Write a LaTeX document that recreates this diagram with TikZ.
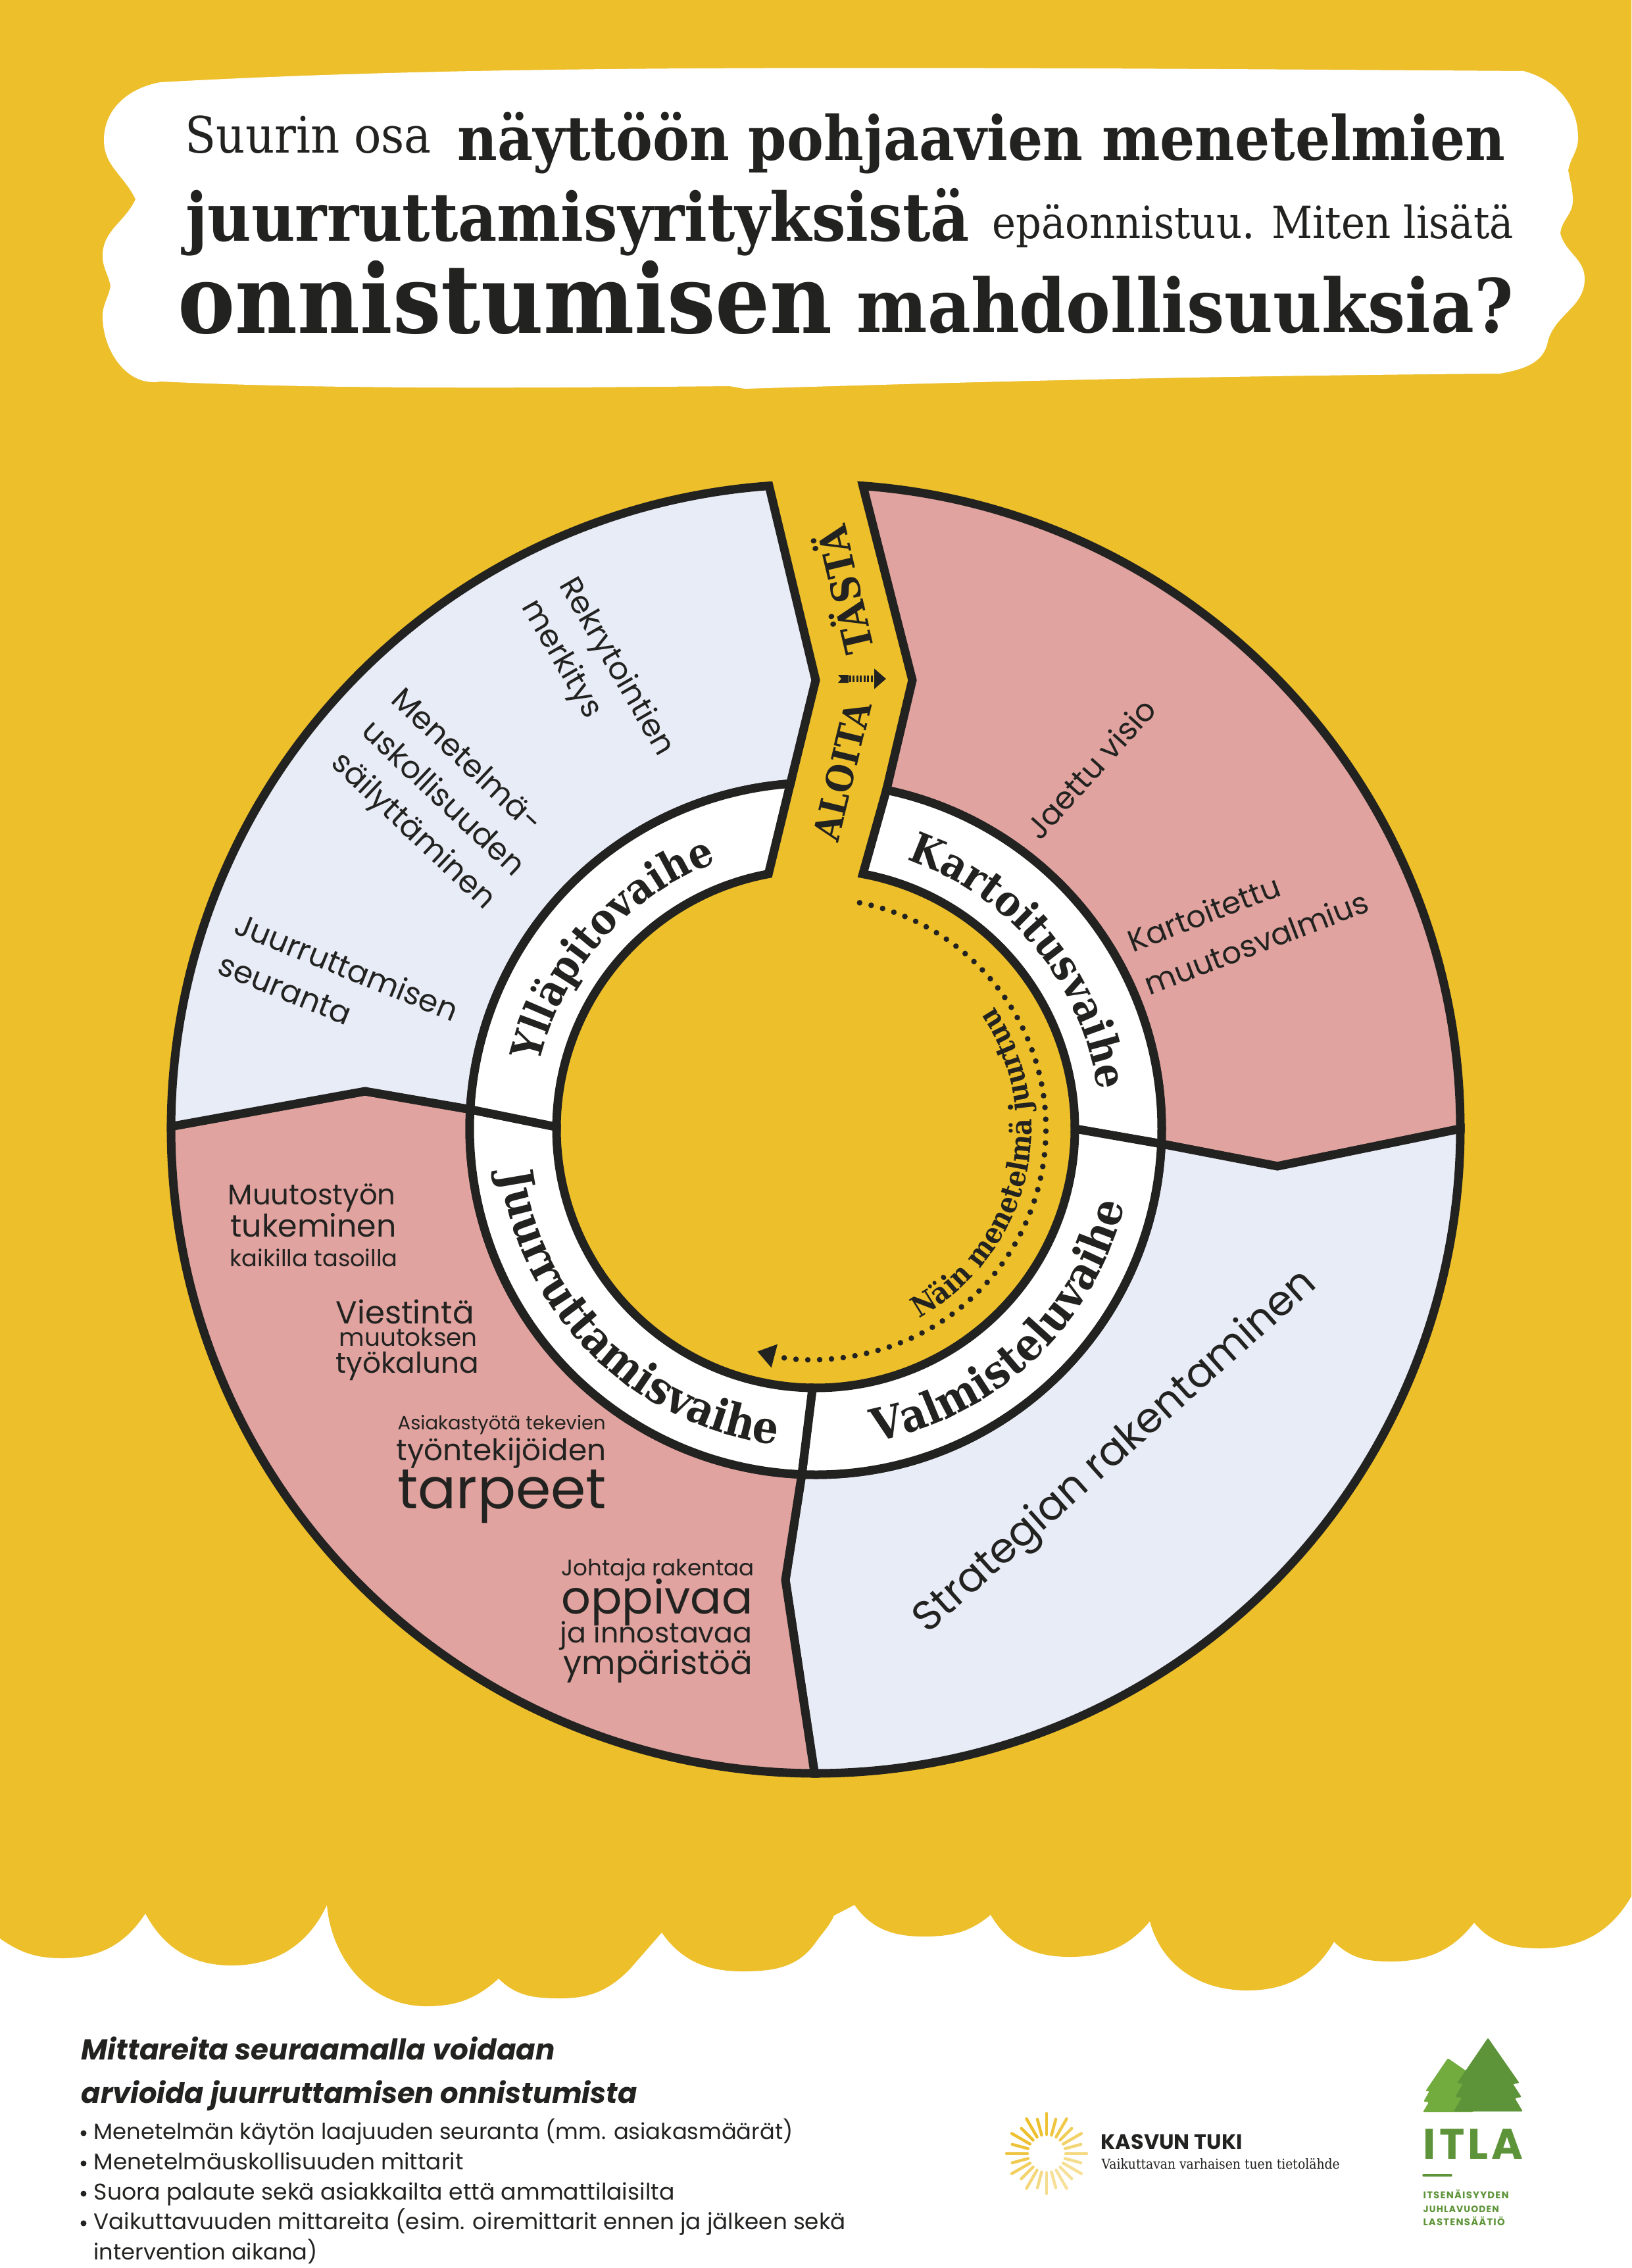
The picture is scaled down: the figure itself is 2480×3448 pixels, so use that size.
\documentclass[tikz,border=0pt]{standalone}
\usepackage{graphicx}
\usepackage{fontspec}
\usetikzlibrary{decorations.text,arrows.meta}
\newfontfamily\serifb{DejaVu Serif Condensed}
\newfontfamily\geosans{Poppins}
\newfontfamily\itlafont{Poppins}[LetterSpace=8]
\definecolor{sunny}{HTML}{EDBF2B}
\definecolor{rose}{HTML}{E0A39F}
\definecolor{mist}{HTML}{E8ECF7}
\definecolor{ink}{HTML}{222220}
\definecolor{pine}{HTML}{5E9439}
\definecolor{leaf}{HTML}{72AC3F}
\definecolor{pale}{HTML}{F7E4A6}
\newlength\pixel
\setlength\pixel{0.01cm}
\newcommand{\fitw}[2]{\resizebox{#1\pixel}{!}{#2}}
\newcommand{\ringfont}{\serifb\bfseries\fontsize{18.3}{19}\selectfont}
\newcommand{\ringfontb}{\serifb\bfseries\fontsize{19.5}{19}\selectfont}
\newcommand{\pathfont}{\serifb\bfseries\fontsize{12.5}{12.5}\selectfont}
\tikzset{
  lbl/.style={inner sep=0pt,anchor=base west,text=ink},
  wheeltxt/.style={inner sep=0pt,text=ink,align=left,font=\geosans\fontsize{13.4}{18.8}\selectfont},
  seg/.style={draw=ink,line width=0.13cm,line join=miter},
  ringtext/.style={decorate,decoration={text along path,text={|\ringfont\color{ink}|#1},text align=center}},
  ringtextb/.style={decorate,decoration={text along path,text={|\ringfontb\color{ink}|#1},text align=center}},
  pathtext/.style={decorate,decoration={text along path,text={|\pathfont\color{ink}|#1},text align=center}},
}
\begin{document}
\begin{tikzpicture}[x=0.01cm,y=-0.01cm]
\useasboundingbox (0,0) rectangle (2480,3448);
\fill[white] (0,0) rectangle (2480,3448);
% yellow page with the scalloped lower edge
\fill[sunny] (0,0) -- (0,2947) to[out=-35,in=180] (95,2977) to[out=0,in=-123] (221,2909)
  to[out=-62,in=180] (352,2988) to[out=0,in=-115] (497,2896) to[out=-85,in=180] (648,3050)
  to[out=0,in=-138] (758,3008) to[out=-45,in=180] (853,3038) to[out=0,in=-134] (958,2993)
  -- (1006,2938) to[out=-55,in=180] (1129,2997) to[out=0,in=-125] (1240,2953)
  to[out=55,in=-115] (1268,2912) -- (1299,2896) to[out=-55,in=180] (1404,2944)
  to[out=0,in=-140] (1506,2911) to[out=-60,in=180] (1626,2975) to[out=0,in=-130] (1748,2921)
  to[out=-75,in=180] (1896,3026) to[out=0,in=-120] (2028,2952) to[out=-45,in=180] (2114,2982)
  to[out=0,in=-128] (2241,2923) to[out=-50,in=180] (2341,2962) to[out=0,in=-120] (2480,2883)
  -- (2480,0) -- cycle;
% cloud behind the title
\fill[white] (244,125) .. controls (700,100) and (1200,100) .. (2316,108)
  to[out=-15,in=90] (2399,210) to[out=-90,in=80] (2384,259)
  to[out=-80,in=90] (2391,305) to[out=-90,in=85] (2372,355)
  to[out=-75,in=90] (2409,424) to[out=-90,in=75] (2353,519)
  to[out=-100,in=10] (2280,568) .. controls (1800,572) and (1500,580) .. (1132,591)
  -- (1109,587) .. controls (800,590) and (500,592) .. (244,580)
  to[out=190,in=-90] (156,481) to[out=90,in=-100] (168,435)
  to[out=100,in=-90] (156,389) to[out=90,in=-115] (206,303)
  to[out=115,in=-90] (158,213) to[out=90,in=190] (244,125) -- cycle;
% title
\node[lbl] (t1) at (281,232) {\fitw{374}{\serifb Suurin osa}};
\node[lbl] (t2) at (695,243) {\fitw{1593}{\serifb\bfseries näyttöön pohjaavien menetelmien}};
\node[lbl] (t3) at (282,366) {\fitw{1191}{\serifb\bfseries juurruttamisyrityksistä}};
\node[lbl] (t4) at (1508,362) {\fitw{792}{\serifb epäonnistuu. Miten lisätä}};
\node[lbl] (t5) at (270,506) {\fitw{995}{\serifb\bfseries onnistumisen}};
\node[lbl] (t6) at (1302,505) {\fitw{998}{\serifb\bfseries mahdollisuuksia?}};
% the wheel, centred, angles as usual
\begin{scope}[shift={(1240,1716)},y=0.01cm]
\draw[seg,fill=rose] (85.8:980) -- (147,682) -- (78.2:526) arc[start angle=78.2,end angle=-2.5,radius=526]
  -- (702,-57) -- (0:980) arc[start angle=0,end angle=85.8,radius=980] -- cycle;
\draw[seg,fill=mist] (0:980) -- (702,-57) -- (-2.5:526) arc[start angle=-2.5,end angle=-92.3,radius=526]
  -- (-46,-686) -- (-90.1:980) arc[start angle=-90.1,end angle=0,radius=980] -- cycle;
\draw[seg,fill=rose] (-90.1:980) -- (-46,-686) -- (-92.3:526) arc[start angle=-92.3,end angle=-183.2,radius=526]
  -- (-685,57) -- (-180.2:980) arc[start angle=-180.2,end angle=-90.1,radius=980] -- cycle;
\draw[seg,fill=mist] (179.8:980) -- (-685,57) -- (176.8:526) arc[start angle=176.8,end angle=94.2,radius=526]
  -- (0,682) -- (94.15:980) arc[start angle=94.15,end angle=179.8,radius=980] -- cycle;
% white ring
\foreach \a/\b/\c/\d in {78.2/-2.5/0/79.5,-2.5/-92.3/-90.7/0,-92.3/-183.2/-180.4/-90.7,176.8/94.2/100.5/179.6}
  \draw[seg,fill=white] (\a:526) arc[start angle=\a,end angle=\b,radius=526]
    -- (\c:394) arc[start angle=\c,end angle=\d,radius=394] -- cycle;
\path[ringtext=Kartoitusvaihe] (79.5:432) arc[start angle=79.5,end angle=-0.5,radius=432];
\path[ringtext=Ylläpitovaihe] (178.5:432) arc[start angle=178.5,end angle=98.5,radius=432];
\path[ringtextb=Valmisteluvaihe] (-90:484) arc[start angle=-90,end angle=-3,radius=484];
\path[ringtextb=Juurruttamisvaihe] (-179:484) arc[start angle=-179,end angle=-90,radius=484];
\path[pathtext=Näin menetelmä juurtuu] (-75:328) arc[start angle=-75,end angle=48,radius=328];
\draw[ink,line width=0.085cm,line cap=round,dash pattern=on 0pt off 0.18cm,
  -{Triangle[length=0.27cm,width=0.35cm]}] (79:350) arc[start angle=79,end angle=-104.7,radius=350];
\end{scope}
% start arrow in the gap
\node[inner sep=0pt,text=ink,rotate=76.3] (aloita) at (1280,1172) {\fitw{215}{\serifb\bfseries ALOITA}};
\node[inner sep=0pt,text=ink,rotate=103.3] (tasta) at (1280,898) {\fitw{198}{\serifb\bfseries TÄSTÄ}};
\coordinate (a0) at (1285,1032);
\coordinate (a1) at (1347,1032);
\fill[ink] (1274,1026) -- (1290,1026) -- (1290,1038) -- (1274,1038) -- (1279,1032) -- cycle;
\draw[ink,line width=0.1cm,dash pattern=on 0.03cm off 0.025cm,-{Triangle[length=0.18cm,width=0.3cm]}] (a0) -- (a1);
% texts of the four sectors
\node[wheeltxt,rotate=-60] (s1) at (907,1031) {Rekrytointien\\merkitys};
\node[wheeltxt,rotate=-43.3] (s2) at (672,1217) {Menetelmä-\\uskollisuuden\\säilyttäminen};
\node[wheeltxt,rotate=-22] (s3) at (515,1500) {Juurruttamisen\\seuranta};
\node[wheeltxt,rotate=48] (s4) at (1658,1168) {\fitw{267}{Jaettu visio}};
\node[wheeltxt,rotate=21,font=\geosans\fontsize{13.2}{20}\selectfont] (s5) at (1897,1400) {Kartoitettu\\muutosvalmius};
\node[wheeltxt,rotate=41.7] (s6) at (1697,2208) {\fitw{795}{Strategian rakentaminen}};
\foreach \n/\x/\y/\w/\txt in {1/346/1831/255/Muutostyön,2/350/1880/252/tukeminen,3/349/1925/255/kaikilla tasoilla,
  4/510/2012/210/Viestintä,5/515/2046/210/muutoksen,6/510/2087/217/työkaluna,
  7/604/2173/316/Asiakastyötä tekevien,8/602/2220/319/työntekijöiden,9/604/2293/317/tarpeet,
  10/853/2395/293/Johtaja rakentaa,11/853/2453/291/oppivaa,12/851/2497/292/ja innostavaa,13/856/2545/287/ympäristöä}
  \node[lbl] (r\n) at (\x,\y) {\fitw{\w}{\geosans\txt}};
% measures
\node[lbl] (h1) at (123,3131) {\fitw{720}{\geosans\bfseries\itshape Mittareita seuraamalla voidaan}};
\node[lbl] (h2) at (123,3197) {\fitw{845}{\geosans\bfseries\itshape arvioida juurruttamisen onnistumista}};
\foreach \n/\y/\w/\txt in {1/3252/1063/Menetelmän käytön laajuuden seuranta (mm. asiakasmäärät),2/3298/562/Menetelmäuskollisuuden mittarit,
  3/3344/883/Suora palaute sekä asiakkailta että ammattilaisilta,4/3389/1143/Vaikuttavuuden mittareita (esim. oiremittarit ennen ja jälkeen sekä} {
  \node[lbl] (b\n) at (142,\y) {\fitw{\w}{\geosans\txt}};
  \fill[ink] (127,\y-9) circle (4.5);
}
\node[lbl] (b5) at (142,3435) {\fitw{340}{\geosans intervention aikana)}};
% logos
\begin{scope}[shift={(1591,3274)},y=0.01cm]
\foreach \a [count=\n] in {0,15,...,345} {
  \pgfmathsetmacro\ro{mod(\n,2)==1 ? 61 : 54}
  \pgfmathsetmacro\mx{int(55+45*cos(\a-125))}
  \draw[sunny!\mx!pale,line width=0.045cm,line cap=round] (\a:29) -- (\a:\ro);
}
\end{scope}
\node[lbl] (k1) at (1673,3267) {\fitw{215}{\geosans\bfseries KASVUN TUKI}};
\node[lbl] (k2) at (1674,3297) {\fitw{362}{\serifb Vaikuttavan varhaisen tuen tietolähde}};
\fill[leaf,rounded corners=0.02cm] (2201,3129) -- (2167,3179) -- (2173,3179) -- (2164,3195) -- (2172,3196) -- (2163,3211)
  -- (2240,3211) -- (2240,3156) -- cycle;
\fill[pine,rounded corners=0.02cm] (2262,3098) -- (2215,3167) -- (2224,3168) -- (2212,3188) -- (2222,3189) -- (2210,3210)
  -- (2315,3210) -- (2303,3190) -- (2313,3188) -- (2300,3168) -- (2310,3167) -- cycle;
\node[lbl,text=pine] (i1) at (2163,3282) {\fitw{152}{\itlafont\bfseries ITLA}};
\draw[pine,line width=0.035cm,line cap=round] (2164,3307) -- (2206,3307);
\foreach \n/\y/\w/\txt in {2/3342/130/ITSENÄISYYDEN,3/3363/115/JUHLAVUODEN,4/3383/124/LASTENSÄÄTIÖ}
  \node[lbl,text=pine] (i\n) at (2163,\y) {\fitw{\w}{\itlafont\bfseries\txt}};
\end{tikzpicture}
\end{document}
